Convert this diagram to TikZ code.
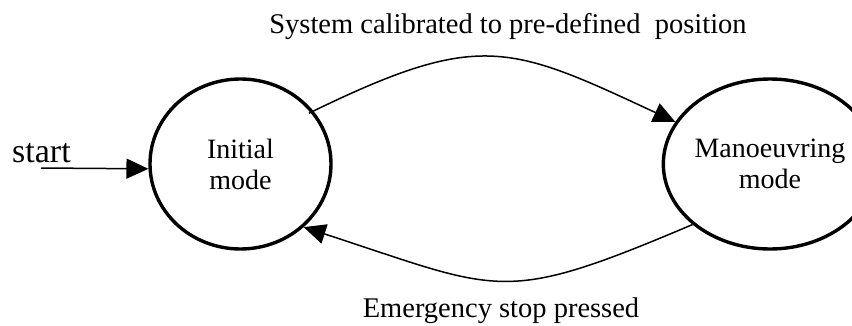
\documentclass[tikz,border=0pt]{standalone}
\usepackage{fontspec}
\setmainfont{Liberation Serif}
\usetikzlibrary{
    arrows.meta,
    shapes.geometric,
    positioning
}

\begin{document}
\begin{tikzpicture}[x=1pt, y=1pt,
    mode/.style={ellipse, draw, line width=3.4pt, minimum width=181pt,
        minimum height=170pt, inner sep=0pt, align=center,
        font=\fontsize{28}{31}\selectfont},
    trans/.style={line width=1.5pt, -{Triangle[length=22pt, width=20pt]}},
    lbl/.style={anchor=base, inner sep=0pt, font=\fontsize{28.5}{30}\selectfont}]
    \useasboundingbox (0,0) rectangle (852,325);
    \node[mode] (init) at (240.5, 161) {Initial\\mode};
    \node[mode] (manv) at (770, 161) {Manoeuvring\\mode};
    \node[lbl, anchor=base west, font=\fontsize{34}{36}\selectfont] (startlbl) at (12, 163) {start};
    \coordinate (startpt) at (41, 157);
    \node[lbl] (calib) at (508, 292) {System calibrated to pre-defined\ \ position};
    \node[lbl] (emerg) at (501, 8) {Emergency stop pressed};
    \draw
    (startpt) edge[trans] (init.183)
    (init.36) edge[trans, out=26, in=155, looseness=1.3, shorten <=-5pt] (manv.156)
    (manv.218) edge[trans, out=203, in=342, looseness=1.37] (init.315);
\end{tikzpicture}
\end{document}
